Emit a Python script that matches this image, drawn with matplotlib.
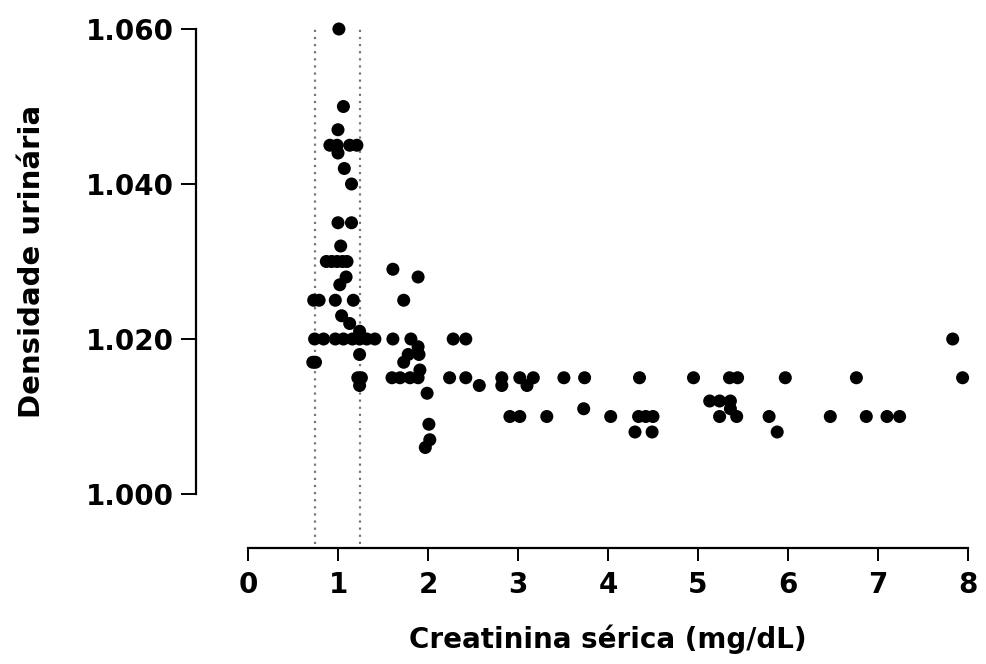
import matplotlib
matplotlib.use('Agg')
import matplotlib.pyplot as plt

plt.rcParams['font.family'] = ['DejaVu Sans']
plt.rcParams['font.weight'] = 'bold'

# creatinina serica (mg/dL) e densidade urinaria
creat = [1.01, 1.06, 1.00,
         0.91, 0.99, 1.13, 1.21, 1.00, 1.07, 1.15,
         1.00, 1.15, 1.03,
         0.87, 0.93, 0.99, 1.05, 1.10,
         1.61, 1.09, 1.89, 1.02,
         0.73, 0.79, 0.97, 1.17, 1.73,
         1.04, 1.13, 1.24,
         0.74, 0.84, 0.97, 1.06, 1.16, 1.24, 1.32, 1.41, 1.61, 1.81, 2.28, 2.42, 7.83,
         1.89, 1.24, 1.78, 1.90,
         0.72, 0.75, 1.73, 1.91,
         1.22, 1.26, 1.60, 1.69, 1.80, 1.89, 2.24, 2.42, 2.82, 3.02, 3.17, 3.51, 3.74,
         4.35, 4.95, 5.35, 5.44, 5.97, 6.76, 7.94,
         1.24, 2.57, 2.82, 3.10,
         1.99,
         5.13, 5.24, 5.36,
         3.73, 5.36,
         2.91, 3.02, 3.32, 4.03, 4.34, 4.42, 4.50, 5.24, 5.43, 5.79, 6.47, 6.87, 7.10, 7.24,
         2.01,
         4.30, 4.49, 5.88,
         2.02, 1.97]
dens = [1.060, 1.050, 1.047,
        1.045, 1.045, 1.045, 1.045, 1.044, 1.042, 1.040,
        1.035, 1.035, 1.032,
        1.030, 1.030, 1.030, 1.030, 1.030,
        1.029, 1.028, 1.028, 1.027,
        1.025, 1.025, 1.025, 1.025, 1.025,
        1.023, 1.022, 1.021,
        1.020, 1.020, 1.020, 1.020, 1.020, 1.020, 1.020, 1.020, 1.020, 1.020, 1.020, 1.020, 1.020,
        1.019, 1.018, 1.018, 1.018,
        1.017, 1.017, 1.017, 1.016,
        1.015, 1.015, 1.015, 1.015, 1.015, 1.015, 1.015, 1.015, 1.015, 1.015, 1.015, 1.015, 1.015,
        1.015, 1.015, 1.015, 1.015, 1.015, 1.015, 1.015,
        1.014, 1.014, 1.014, 1.014,
        1.013,
        1.012, 1.012, 1.012,
        1.011, 1.011,
        1.010, 1.010, 1.010, 1.010, 1.010, 1.010, 1.010, 1.010, 1.010, 1.010, 1.010, 1.010, 1.010, 1.010,
        1.009,
        1.008, 1.008, 1.008,
        1.007, 1.006]

# faixa de referencia da creatinina
ref_lim = [0.74, 1.24]

ybot = 1.0 - 54/7750

fig = plt.figure(figsize=(9.86, 6.64), dpi=100)
ax = fig.add_axes([248/986, 1 - 548/664, 720/986, 519/664])

ax.scatter(creat, dens, s=88, color='black', edgecolors='none', zorder=3, clip_on=False)
for xr in ref_lim:
    ax.plot([xr, xr], [0.9935, 1.0605], color='#777777', lw=1.6, ls=(0, (1, 2.2)), zorder=2, clip_on=False)

ax.set_xlim(0, 8)
ax.set_ylim(ybot, 1.060)
ax.set_xticks(range(9))
ax.set_yticks([1.000, 1.020, 1.040, 1.060])
ax.set_yticklabels(['1.000', '1.020', '1.040', '1.060'])

for s in ['top', 'right']:
    ax.spines[s].set_visible(False)
ax.spines['left'].set_position(('outward', 37.4))
ax.spines['left'].set_bounds(1.000, 1.060)
ax.spines['bottom'].set_bounds(0, 8)
ax.spines['left'].set_linewidth(1.6)
ax.spines['bottom'].set_linewidth(1.6)

ax.tick_params(axis='y', length=11, width=1.4, labelsize=20, pad=5)
ax.tick_params(axis='x', length=9.5, width=1.4, labelsize=20, pad=7)

ax.set_xlabel('Creatinina sérica (mg/dL)', fontsize=20, fontweight='bold')
ax.set_ylabel('Densidade urinária', fontsize=21, fontweight='bold')
ax.xaxis.set_label_coords(0.5, -0.148)
ax.yaxis.set_label_coords(-0.28, (1.030 - ybot) / (1.060 - ybot))

fig.savefig('out.png', dpi=100)
